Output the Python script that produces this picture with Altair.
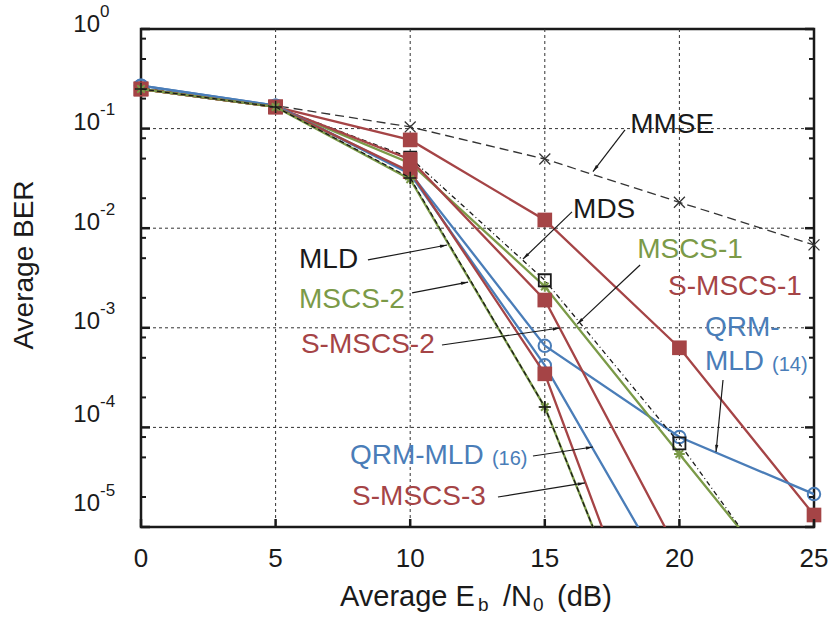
import math
import altair as alt
import pandas as pd

# ---- measured BER curves (Eb/N0 in dB) ----
snr_db = [0, 5, 10, 15, 20, 25]

ber_mmse = [0.256, 0.17, 0.104, 0.0495, 0.0182, 0.0068]
ber_s_mscs1 = [0.25, 0.165, 0.077, 0.0121, 6.3e-4, 1.32e-5]
ber_qrm14 = [0.27, 0.17, 0.036, 6.6e-4, 8.0e-5, 2.14e-5]
ber_mds = [0.25, 0.165, 0.051, 3.0e-3, 6.9e-5, 9.3e-7]
ber_mscs1 = [0.25, 0.165, 0.045, 2.6e-3, 5.4e-5, 1.15e-6]
ber_s_mscs2 = [0.25, 0.165, 0.049, 1.9e-3, 5.3e-6]
ber_qrm16 = [0.27, 0.17, 0.035, 4.2e-4, 1.9e-6]
ber_s_mscs3 = [0.25, 0.165, 0.037, 3.45e-4, 8.3e-8]
ber_mscs2 = [0.25, 0.165, 0.031, 1.6e-4, 6.8e-8]
ber_mld = [0.25, 0.165, 0.032, 1.6e-4, 6.8e-8]

# ---- axis ticks ----
x_ticks = [0, 5, 10, 15, 20, 25]
x_grid = [5, 10, 15, 20]
y_decades = [0, -1, -2, -3, -4, -5]
y_minor_mult = [2, 5, 8]

# ---- annotation labels (left edge, vertical centre) ----
ann_text = ["MMSE", "MDS", "MSCS-1", "S-MSCS-1", "QRM-", "MLD", "MLD", "MSCS-2",
            "S-MSCS-2", "QRM-MLD", "S-MSCS-3"]
ann_x = [18.17, 16.05, 18.43, 19.58, 20.95, 20.95, 5.87, 5.87, 5.94, 7.76, 7.84]
ann_y = [0.1087, 0.01524, 6.04e-3, 2.57e-3, 9.95e-4, 4.54e-4, 4.8e-3, 1.9e-3,
         6.7e-4, 5.16e-5, 2.0e-5]
ann_kind = ["black", "black", "green", "red", "blue", "blue", "black", "green",
            "red", "blue", "red"]

# small bracketed list sizes next to the QRM-MLD labels
sub_text = ["(14)", "(16)"]
sub_x = [20.95, 7.76]
sub_y = [4.54e-4, 5.16e-5]
sub_dx = [67, 142]

# leader arrows: start point -> arrow tip
arr_x1 = [17.98, 16.01, 18.54, 21.62, 8.43, 10.07, 11.18, 14.56, 13.26]
arr_y1 = [0.097, 0.0146, 4.27e-3, 2.99e-4, 4.8e-3, 2.24e-3, 6.72e-4, 5.16e-5, 2.0e-5]
arr_x2 = [16.79, 14.19, 16.20, 21.36, 11.37, 12.15, 15.56, 16.79, 16.49]
arr_y2 = [0.037, 4.9e-3, 1.09e-3, 5.66e-5, 6.78e-3, 2.88e-3, 9.95e-4, 6.36e-5, 2.77e-5]

# ---- styling ----
W, H = 673, 498
FONT = "Liberation Sans"
RED = "#a54446"
GREEN = "#7b9a48"
BLUE = "#4a7db8"
BLACK = "#1a1a1a"
PALETTE = {"black": BLACK, "red": RED, "green": GREEN, "blue": BLUE}

X_MIN, X_MAX = 0, 25
Y_MIN, Y_MAX = 1e-5, 1

xs = alt.Scale(domain=[X_MIN, X_MAX], nice=False, zero=False)
ys = alt.Scale(type="log", domain=[Y_MIN, Y_MAX], nice=False)

CROSS = "M-1,-1L1,1M-1,1L1,-1"
PLUS = "M-1,0L1,0M0,-1L0,1"
STAR = "M-1,0L1,0M0,-1L0,1M-0.7,-0.7L0.7,0.7M-0.7,0.7L0.7,-0.7"
ARROW = "M0,0L-0.3,1.3L0.3,1.3Z"

# vertical nudges of the decade labels (baseline relative to the tick)
y_label_dy = [2.5, 1, 2, 1.5, -5.5, -16.5]

# name, values, colour, dash, width, marker shape, filled, marker size, marker stroke
series = [
    ("MMSE", ber_mmse, "#333333", [9, 5], 1.3, CROSS, False, 120, 1.3),
    ("S-MSCS-1", ber_s_mscs1, RED, [], 2.3, "square", True, 215, 0),
    ("QRM-MLD (14)", ber_qrm14, BLUE, [], 2.3, "circle", False, 155, 2),
    ("MSCS-1", ber_mscs1, GREEN, [], 2.3, STAR, False, 115, 2),
    ("MDS", ber_mds, BLACK, [5, 3, 1, 3], 1.3, "square", False, 145, 1.8),
    ("S-MSCS-2", ber_s_mscs2, RED, [], 2.3, "square", True, 215, 0),
    ("QRM-MLD (16)", ber_qrm16, BLUE, [], 2.3, "circle", False, 155, 2),
    ("S-MSCS-3", ber_s_mscs3, RED, [], 2.3, "square", True, 215, 0),
    ("MSCS-2", ber_mscs2, GREEN, [], 2.3, STAR, False, 115, 2),
    ("MLD", ber_mld, BLACK, [5, 3], 1.3, PLUS, False, 150, 1.5),
]

layers = []

# dotted grid
grid_x_df = pd.DataFrame({"x": x_grid})
layers.append(
    alt.Chart(grid_x_df).mark_rule(color="#333333", strokeWidth=1, strokeDash=[3, 3]).encode(
        x=alt.X("x:Q", scale=xs, axis=None), y=alt.value(0), y2=alt.value(H))
)
grid_y_df = pd.DataFrame({"y": [10.0 ** d for d in y_decades[1:-1]]})
layers.append(
    alt.Chart(grid_y_df).mark_rule(color="#333333", strokeWidth=1, strokeDash=[3, 3]).encode(
        y=alt.Y("y:Q", scale=ys, axis=None), x=alt.value(0), x2=alt.value(W))
)

# curves
for name, vals, col, dash, sw, shape, filled, size, msw in series:
    df = pd.DataFrame({"snr": snr_db[:len(vals)], "ber": vals})
    line_kw = dict(color=col, strokeWidth=sw, clip=True)
    if dash:
        line_kw["strokeDash"] = dash
    layers.append(
        alt.Chart(df).mark_line(**line_kw).encode(
            x=alt.X("snr:Q", scale=xs, axis=None),
            y=alt.Y("ber:Q", scale=ys, axis=None),
        )
    )
    pts = df[df["ber"] >= Y_MIN]
    pt_kw = dict(shape=shape, size=size, opacity=1)
    if filled:
        pt_kw.update(filled=True, color=col, strokeWidth=0)
    else:
        pt_kw.update(filled=False, color=col, strokeWidth=msw)
    layers.append(
        alt.Chart(pts).mark_point(**pt_kw).encode(
            x=alt.X("snr:Q", scale=xs, axis=None),
            y=alt.Y("ber:Q", scale=ys, axis=None),
        )
    )

# inward ticks
major_df = pd.DataFrame({"y": [10.0 ** d for d in y_decades]})
minor_df = pd.DataFrame({"y": [m * 10.0 ** d for d in y_decades[1:] for m in y_minor_mult]})
for df, ln, sw in [(major_df, 9, 2.5), (minor_df, 5, 2)]:
    for x0, x1 in [(0, ln), (W - ln, W)]:
        layers.append(
            alt.Chart(df).mark_rule(color=BLACK, strokeWidth=sw).encode(
                y=alt.Y("y:Q", scale=ys, axis=None), x=alt.value(x0), x2=alt.value(x1))
        )
xt_df = pd.DataFrame({"x": x_ticks})
layers.append(
    alt.Chart(xt_df).mark_rule(color=BLACK, strokeWidth=2.5).encode(
        x=alt.X("x:Q", scale=xs, axis=None), y=alt.value(H - 8), y2=alt.value(H))
)

# tick labels
layers.append(
    alt.Chart(xt_df).mark_text(font=FONT, fontSize=26, color=BLACK, baseline="alphabetic").encode(
        x=alt.X("x:Q", scale=xs, axis=None), y=alt.value(H + 40), text=alt.Text("x:Q"))
)
for d, ddy in zip(y_decades, y_label_dy):
    lab_df = pd.DataFrame({"y": [10.0 ** d], "exp": [str(d)]})
    layers.append(
        alt.Chart(lab_df).mark_text(font=FONT, fontSize=24, color=BLACK, align="right",
                                    baseline="alphabetic", dy=ddy).encode(
            y=alt.Y("y:Q", scale=ys, axis=None), x=alt.value(-41), text=alt.value("10"))
    )
    layers.append(
        alt.Chart(lab_df).mark_text(font=FONT, fontSize=17, color=BLACK, align="left",
                                    baseline="alphabetic", dy=ddy - 15).encode(
            y=alt.Y("y:Q", scale=ys, axis=None), x=alt.value(-41), text=alt.Text("exp:N"))
    )

# axis titles
layers.append(
    alt.Chart(pd.DataFrame({"t": ["Average BER"]})).mark_text(
        font=FONT, fontSize=28, color=BLACK, angle=270, align="center", baseline="middle").encode(
        x=alt.value(-116), y=alt.value(236), text="t:N")
)
xtitle_parts = [("Average E", 199, 0, 29), ("b", 337, 5, 19), ("/N", 362, 0, 29),
                ("0", 392, 5, 19), ("(dB)", 416, 0, 29)]
for txt, px, dy, fs in xtitle_parts:
    layers.append(
        alt.Chart(pd.DataFrame({"t": [txt]})).mark_text(
            font=FONT, fontSize=fs, color=BLACK, align="left", baseline="alphabetic", dy=dy).encode(
            x=alt.value(px), y=alt.value(H + 79), text="t:N")
    )

# annotations
ann_df = pd.DataFrame({"x": ann_x, "y": ann_y, "t": ann_text,
                       "c": [PALETTE[k] for k in ann_kind]})
layers.append(
    alt.Chart(ann_df).mark_text(font=FONT, fontSize=28, align="left", baseline="middle").encode(
        x=alt.X("x:Q", scale=xs, axis=None), y=alt.Y("y:Q", scale=ys, axis=None),
        text="t:N", color=alt.Color("c:N", scale=None))
)
for t, x, y, dx in zip(sub_text, sub_x, sub_y, sub_dx):
    layers.append(
        alt.Chart(pd.DataFrame({"x": [x], "y": [y], "t": [t]})).mark_text(
            font=FONT, fontSize=20, align="left", baseline="middle", color=BLUE, dx=dx, dy=3).encode(
            x=alt.X("x:Q", scale=xs, axis=None), y=alt.Y("y:Q", scale=ys, axis=None), text="t:N")
    )


def to_px(x, y):
    px = (x - X_MIN) / (X_MAX - X_MIN) * W
    py = (math.log10(Y_MAX) - math.log10(y)) / (math.log10(Y_MAX) - math.log10(Y_MIN)) * H
    return px, py


angles = []
for x1, y1, x2, y2 in zip(arr_x1, arr_y1, arr_x2, arr_y2):
    a1, b1 = to_px(x1, y1)
    a2, b2 = to_px(x2, y2)
    ang = math.degrees(math.atan2(a2 - a1, -(b2 - b1)))
    angles.append(ang % 360)

arr_df = pd.DataFrame({"x1": arr_x1, "y1": arr_y1, "x2": arr_x2, "y2": arr_y2, "a": angles})
layers.append(
    alt.Chart(arr_df).mark_rule(color=BLACK, strokeWidth=1.2).encode(
        x=alt.X("x1:Q", scale=xs, axis=None), y=alt.Y("y1:Q", scale=ys, axis=None),
        x2="x2:Q", y2="y2:Q")
)
layers.append(
    alt.Chart(arr_df).mark_point(shape=ARROW, filled=True, color=BLACK, size=120, opacity=1,
                                 strokeWidth=0).encode(
        x=alt.X("x2:Q", scale=xs, axis=None), y=alt.Y("y2:Q", scale=ys, axis=None),
        angle=alt.Angle("a:Q", scale=None))
)

chart = alt.layer(*layers).properties(
    width=W, height=H,
    padding={"left": 141, "top": 29, "right": 18, "bottom": 92},
    autosize="none",
).configure_view(stroke=BLACK, strokeWidth=2.5)

chart.save("out.html", embed_options={"renderer": "svg", "actions": False})
